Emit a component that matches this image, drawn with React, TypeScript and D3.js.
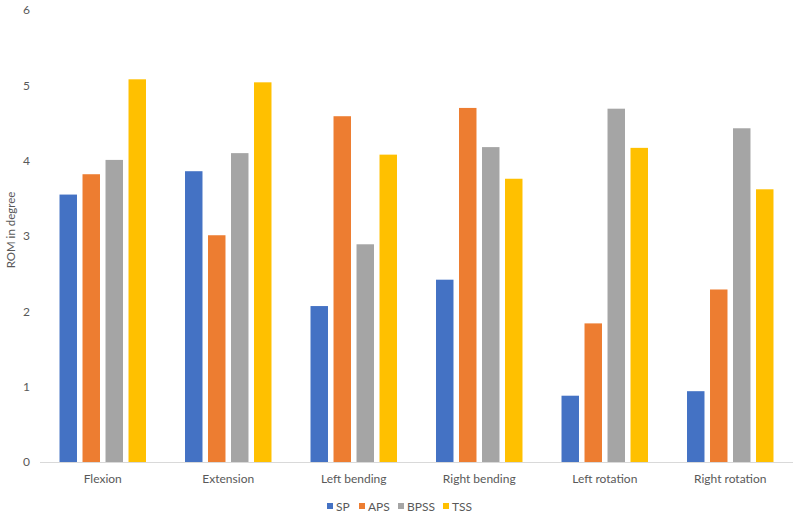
import React from "react";
import * as d3 from "d3";

const categories = ["Flexion", "Extension", "Left bending", "Right bending", "Left rotation", "Right rotation"];
const seriesNames = ["SP", "APS", "BPSS", "TSS"];
const SP = [3.55, 3.86, 2.07, 2.42, 0.88, 0.94];
const APS = [3.82, 3.01, 4.59, 4.70, 1.84, 2.29];
const BPSS = [4.01, 4.10, 2.89, 4.18, 4.69, 4.43];
const TSS = [5.08, 5.04, 4.08, 3.76, 4.17, 3.62];
const yTicks = [0, 1, 2, 3, 4, 5, 6];
const colors = ["#4472C4", "#ED7D31", "#A5A5A5", "#FFC000"];

const W = 796;
const H = 515;
const FONT = "Lato, 'Open Sans', sans-serif";

export default function App() {
  const values = [SP, APS, BPSS, TSS];
  const x0 = d3.scaleBand<string>().domain(categories).range([40, 793]).padding(0);
  const x1 = d3.scaleBand<string>().domain(seriesNames).range([-46, 46]).paddingInner(0.24).paddingOuter(0.12);
  const y = d3.scaleLinear().domain([0, 6]).range([462, 10]);

  const legendX = [327, 359, 398, 443];

  return (
    <svg width={W} height={H} style={{ position: "absolute", left: 0, top: 0, background: "#fff" }} fontFamily={FONT}>
      <rect x={0} y={0} width={W} height={H} fill="#fff" />
      {categories.map((c, ci) => {
        const cx = (x0(c) ?? 0) + x0.bandwidth() / 2;
        return seriesNames.map((s, si) => {
          const v = values[si][ci];
          return (
            <rect
              key={c + s}
              x={cx + (x1(s) ?? 0)}
              y={y(v)}
              width={x1.bandwidth()}
              height={y(0) - y(v)}
              fill={colors[si]}
            />
          );
        });
      })}
      <line x1={40} x2={793} y1={y(0) + 0.5} y2={y(0) + 0.5} stroke="#d9d9d9" strokeWidth={1} />
      {yTicks.map((t) => (
        <text key={t} x={30} y={y(t)} dy="0.35em" textAnchor="end" fontSize={12} fill="#595959">
          {t}
        </text>
      ))}
      {categories.map((c) => (
        <text
          key={c}
          x={(x0(c) ?? 0) + x0.bandwidth() / 2}
          y={479}
          dy="0.35em"
          textAnchor="middle"
          fontSize={12}
          fill="#595959"
        >
          {c}
        </text>
      ))}
      <text
        transform={`translate(11, 230) rotate(-90)`}
        textAnchor="middle"
        dy="0.35em"
        fontSize={11.5}
        fill="#595959"
      >
        ROM in degree
      </text>
      {seriesNames.map((s, i) => (
        <g key={s}>
          <rect x={legendX[i]} y={503} width={6} height={6} fill={colors[i]} />
          <text x={legendX[i] + 9} y={506.5} dy="0.35em" fontSize={12} fill="#595959">
            {s}
          </text>
        </g>
      ))}
    </svg>
  );
}
